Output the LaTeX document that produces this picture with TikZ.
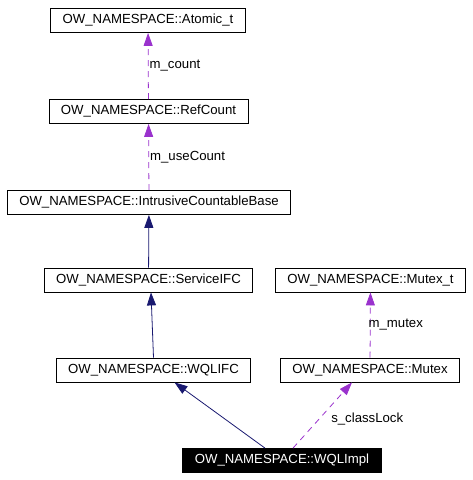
\documentclass[tikz,border=0pt]{standalone}
\usepackage{fontspec}
\setmainfont{Liberation Sans}
\usepackage{tikz}
\usetikzlibrary{arrows.meta}
\definecolor{inherit}{HTML}{191970}
\definecolor{usage}{HTML}{9A32CD}
\tikzset{
x=1pt, y=-1pt, % one unit is one pixel of the picture, y going down
every node/.style={font=\fontsize{13.2}{15}\selectfont},
class/.style={draw, line width=0.8pt, minimum height=24pt, inner xsep=12pt, inner ysep=0pt}, % a class box
focus/.style={class, fill=black, text=white}, % the class the picture is about
base/.style={draw=inherit, line width=0.8pt, -{Triangle[width=9pt,length=13pt]}}, % inheritance
member/.style={draw=usage, line width=0.8pt, dash pattern=on 6pt off 5pt, -{Triangle[width=9pt,length=13pt]}}, % usage by a member
}

\begin{document}
\begin{tikzpicture}
        \useasboundingbox (0, 0) rectangle (472, 480);

        \node[class] (atomic) at (148, 20.5) {OW\_NAMESPACE::Atomic\_t};
        \node[class] (refcount) at (148.5, 111.5) {OW\_NAMESPACE::RefCount};
        \node[class] (countable) at (149, 202.5) {OW\_NAMESPACE::IntrusiveCountableBase};
        \node[class] (service) at (148.5, 280) {OW\_NAMESPACE::ServiceIFC};
        \node[class] (mutex-t) at (370.5, 280) {OW\_NAMESPACE::Mutex\_t};
        \node[class] (wqlifc) at (153.5, 370) {OW\_NAMESPACE::WQLIFC};
        \node[class] (mutex) at (370, 370) {OW\_NAMESPACE::Mutex};
        \node[focus] (wqlimpl) at (282, 460.5) {OW\_NAMESPACE::WQLImpl};

        \draw[member] (refcount) -- node[right, inner xsep=1pt]{m\_count} (atomic);
        \draw[member] (countable) -- node[right, inner xsep=1pt]{m\_useCount} (refcount);
        \draw[base] (service) -- (countable);
        \draw[base] (wqlifc.north) -- ([xshift=2.5pt]service.south);
        \draw[member] (mutex) -- node[right, inner xsep=0pt, xshift=-2pt]{m\_mutex} (mutex-t);
        \draw[base] ([xshift=-17pt]wqlimpl.north) -- ([xshift=21pt]wqlifc.south);
        \draw[member] ([xshift=11pt]wqlimpl.north) -- node[right, pos=0.45, xshift=8pt]{s\_classLock} ([xshift=-18pt]mutex.south);
    \end{tikzpicture}
\end{document}
